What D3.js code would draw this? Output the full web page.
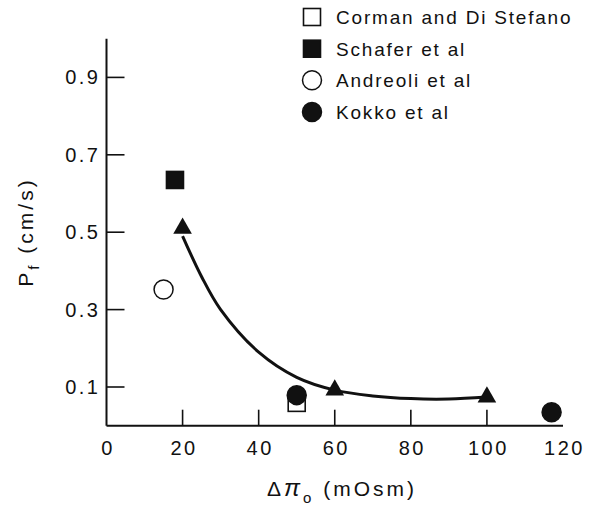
<!DOCTYPE html>
<html>
<head>
<meta charset="utf-8">
<script src="https://cdn.jsdelivr.net/npm/d3@7"></script>
<style>
  body { margin: 0; background: #fff; }
  svg { display: block; }
  text { font-family: "Liberation Sans", Arial, sans-serif; fill: #111; }
</style>
</head>
<body>
<svg id="mainSvg" width="589" height="508"></svg>
<script>
// data
let xTicks = [20, 40, 60, 80, 100]
let xTickLabels = ['0', '20', '40', '60', '80', '100', '120']
let yTicks = [0.1, 0.3, 0.5, 0.7, 0.9]

let corman = [[50, 0.059]]
let schafer = [[18, 0.635]]
let andreoli = [[15, 0.352]]
let kokko = [[50, 0.079], [117, 0.035]]
let present = [[20, 0.51], [60, 0.092], [100, 0.074]]
// fitted curve through the triangles
let fitCurve = [[20, 0.49], [25, 0.385], [30, 0.3], [40, 0.19], [50, 0.125],
    [60, 0.092], [70, 0.077], [80, 0.07], [90, 0.069], [100, 0.074]]

let legendNames = ['Corman and Di Stefano', 'Schafer et al', 'Andreoli et al', 'Kokko et al']

let svg = d3.select('#mainSvg')
let ink = '#111'

let x = d3.scaleLinear().domain([0, 120]).range([106.5, 563])
let y = d3.scaleLinear().domain([0, 1]).range([425.7, 38.7])

// axes lines
svg.append('line')
    .attr('x1', x(0)).attr('x2', x(0))
    .attr('y1', y(0)).attr('y2', y(1))
    .attr('stroke', ink).attr('stroke-width', 2)
svg.append('line')
    .attr('x1', x(0)).attr('x2', x(120))
    .attr('y1', y(0)).attr('y2', y(0))
    .attr('stroke', ink).attr('stroke-width', 2)

// y ticks go inward
svg.append('g').selectAll('line')
    .data(yTicks).enter().append('line')
    .attr('x1', x(0)).attr('x2', x(0) + 18)
    .attr('y1', d => y(d)).attr('y2', d => y(d))
    .attr('stroke', ink).attr('stroke-width', 1.6)
svg.append('g').selectAll('text')
    .data(yTicks).enter().append('text')
    .attr('x', x(0) - 6)
    .attr('y', d => y(d) + 7)
    .attr('text-anchor', 'end')
    .attr('font-size', 20)
    .attr('letter-spacing', 2.5)
    .text(d => d3.format('.1f')(d))

// x ticks go upward
svg.append('g').selectAll('line')
    .data(xTicks).enter().append('line')
    .attr('x1', d => x(d)).attr('x2', d => x(d))
    .attr('y1', y(0)).attr('y2', y(0) - 16)
    .attr('stroke', ink).attr('stroke-width', 1.6)
svg.append('g').selectAll('text')
    .data(xTickLabels).enter().append('text')
    .attr('x', d => x(+d) + 1.5)
    .attr('y', y(0) + 29)
    .attr('text-anchor', 'middle')
    .attr('font-size', 20)
    .attr('letter-spacing', 2.5)
    .text(d => d)

// axis titles
let xt = svg.append('text')
    .attr('x', 342).attr('y', 496)
    .attr('text-anchor', 'middle')
    .attr('font-size', 21)
    .attr('letter-spacing', 3)
xt.append('tspan').text('Δ')
xt.append('tspan').attr('font-style', 'italic').attr('font-size', 24).text('π')
xt.append('tspan').attr('font-size', 15).attr('dy', 7).text('o')
xt.append('tspan').attr('dy', -7).text(' (mOsm)')

let yt = svg.append('text')
    .attr('transform', 'translate(33,232) rotate(-90)')
    .attr('text-anchor', 'middle')
    .attr('font-size', 21)
    .attr('letter-spacing', 3)
yt.append('tspan').text('P')
yt.append('tspan').attr('font-size', 15).attr('dy', 6).text('f')
yt.append('tspan').attr('dy', -6).text('  (cm/s)')

// fitted curve
let line = d3.line()
    .x(d => x(d[0]))
    .y(d => y(d[1]))
    .curve(d3.curveCatmullRom)
svg.append('path')
    .datum(fitCurve)
    .attr('d', line)
    .attr('fill', 'none')
    .attr('stroke', ink)
    .attr('stroke-width', 3)

// markers
let sq = 17, r = 9.5
let drawSquares = function (data, filled) {
    svg.append('g').selectAll('rect')
        .data(data).enter().append('rect')
        .attr('x', d => x(d[0]) - sq / 2)
        .attr('y', d => y(d[1]) - sq / 2)
        .attr('width', sq).attr('height', sq)
        .attr('fill', filled ? ink : '#fff')
        .attr('stroke', ink).attr('stroke-width', 1.6)
}
let drawCircles = function (data, filled) {
    svg.append('g').selectAll('circle')
        .data(data).enter().append('circle')
        .attr('cx', d => x(d[0]))
        .attr('cy', d => y(d[1]))
        .attr('r', r)
        .attr('fill', filled ? ink : '#fff')
        .attr('stroke', ink).attr('stroke-width', 1.5)
}
drawSquares(corman, false)
drawSquares(schafer, true)
drawCircles(andreoli, false)
drawCircles(kokko, true)

let tri = d3.symbol().type(d3.symbolTriangle).size(150)
svg.append('g').selectAll('path')
    .data(present).enter().append('path')
    .attr('d', tri)
    .attr('transform', d => 'translate(' + x(d[0]) + ',' + y(d[1]) + ')')
    .attr('fill', ink)

// legend
let legY = [17, 48.7, 80.3, 112]
let leg = svg.append('g').attr('transform', 'translate(312,0)')
legendNames.forEach(function (name, i) {
    let g = leg.append('g').attr('transform', 'translate(0,' + legY[i] + ')')
    if (i < 2) {
        g.append('rect')
            .attr('x', -sq / 2).attr('y', -sq / 2)
            .attr('width', sq).attr('height', sq)
            .attr('fill', i === 1 ? ink : '#fff')
            .attr('stroke', ink).attr('stroke-width', 1.6)
    } else {
        g.append('circle')
            .attr('r', r)
            .attr('fill', i === 3 ? ink : '#fff')
            .attr('stroke', ink).attr('stroke-width', 1.5)
    }
    g.append('text')
        .attr('x', 24).attr('y', 7)
        .attr('font-size', 19)
        .attr('letter-spacing', 1.8)
        .text(name)
})
</script>
</body>
</html>
